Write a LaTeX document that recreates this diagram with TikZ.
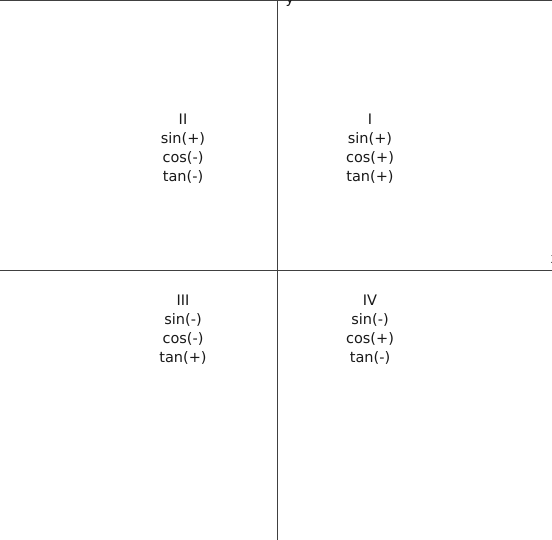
\documentclass[tikz,border=0pt]{standalone}
\usepackage{fontspec}
\setmainfont{DejaVu Sans}
\begin{document}
\begin{tikzpicture}[x=1pt,y=1pt,
  axisline/.style={draw=black!75,line width=0.8pt},
  quad/.style={align=center,font=\fontsize{14.5}{19}\selectfont,inner sep=0pt,text=black!90},
  axlabel/.style={font=\fontsize{14.5}{17}\selectfont,inner sep=0pt,text=black!90}]
\useasboundingbox (0,0) rectangle (552,540);
\coordinate (tl) at (0,540);
\coordinate (tr) at (552,540);
\coordinate (vt) at (277,540);
\coordinate (vb) at (277,0);
\coordinate (hl) at (0,269.5);
\coordinate (hr) at (552,269.5);
\draw[axisline] (tl) -- (tr);
\draw[axisline] (vt) -- (vb);
\draw[axisline] (hl) -- (hr);
\node[quad] (q2) at (183,391.5) {II\\sin(+)\\cos(-)\\tan(-)};
\node[quad] (q1) at (370,391.5) {I\\sin(+)\\cos(+)\\tan(+)};
\node[quad] (q3) at (183,210.5) {III\\sin(-)\\cos(-)\\tan(+)};
\node[quad] (q4) at (370,210.5) {IV\\sin(-)\\cos(+)\\tan(-)};
\node[axlabel,anchor=base] (ylab) at (290,536) {y};
\node[axlabel,anchor=base west] (xlab) at (550.5,276) {x};
\end{tikzpicture}
\end{document}
